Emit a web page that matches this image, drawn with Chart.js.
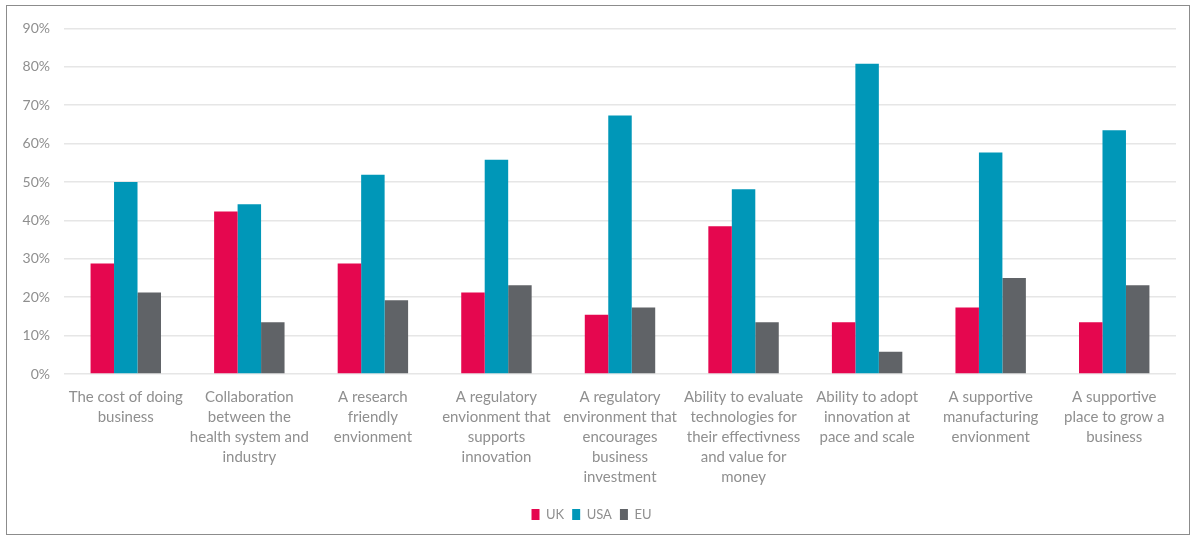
<!DOCTYPE html>
<html lang="en">
<head>
    <meta charset="UTF-8">
    <title>UK / USA / EU comparison</title>
    <style>
        body {
            margin: 0;
            background: #fff;
            font-family: Lato, "Open Sans", sans-serif;
        }
        .frame {
            position: absolute;
            left: 6px;
            top: 5px;
            width: 1184px;
            height: 530px;
            border: 1px solid #8c8c8c;
            box-sizing: border-box;
        }
    </style>
</head>
<body>

<div class="frame">
    <canvas id="chart" width="1182" height="528"></canvas>
</div>

<script src="https://cdn.jsdelivr.net/npm/chart.js"></script>
<script>
    const categories = [
        ['The cost of doing', 'business'],
        ['Collaboration', 'between the', 'health system and', 'industry'],
        ['A research', 'friendly', 'envionment'],
        ['A regulatory', 'envionment that', 'supports', 'innovation'],
        ['A regulatory', 'environment that', 'encourages', 'business', 'investment'],
        ['Ability to evaluate', 'technologies for', 'their effectivness', 'and value for', 'money'],
        ['Ability to adopt', 'innovation at', 'pace and scale'],
        ['A supportive', 'manufacturing', 'envionment'],
        ['A supportive', 'place to grow a', 'business']
    ];

    const ukValues  = [28.8, 42.3, 28.8, 21.2, 15.4, 38.5, 13.5, 17.3, 13.5];
    const usaValues = [50.0, 44.2, 51.9, 55.8, 67.3, 48.1, 80.8, 57.7, 63.5];
    const euValues  = [21.2, 13.5, 19.2, 23.1, 17.3, 13.5, 5.8, 25.0, 23.1];

    const textColor = '#8f8f8f';

    new Chart(document.getElementById('chart').getContext('2d'), {
        type: 'bar',
        data: {
            labels: categories,
            datasets: [
                { label: 'UK', data: ukValues, backgroundColor: '#e5074f' },
                { label: 'USA', data: usaValues, backgroundColor: '#0097b8' },
                { label: 'EU', data: euValues, backgroundColor: '#606367' }
            ]
        },
        options: {
            responsive: false,
            animation: false,
            layout: {
                padding: { left: 0, right: 13, top: 12, bottom: 3 }
            },
            datasets: {
                bar: {
                    categoryPercentage: 0.57,
                    barPercentage: 1.0
                }
            },
            scales: {
                x: {
                    // leave a gap between the wrapped labels and the legend
                    afterFit: function (scale) {
                        scale.height += 8;
                    },
                    grid: { display: false },
                    border: { display: false },
                    ticks: {
                        color: textColor,
                        font: { family: 'Lato', size: 15, lineHeight: '20px' },
                        maxRotation: 0,
                        autoSkip: false,
                        padding: 5
                    }
                },
                y: {
                    min: 0,
                    max: 90,
                    afterFit: function (scale) {
                        scale.width = 57;
                    },
                    grid: {
                        color: '#e6e6e6',
                        lineWidth: 1.5,
                        drawTicks: false
                    },
                    border: { display: false },
                    ticks: {
                        stepSize: 10,
                        color: textColor,
                        padding: 14,
                        font: { family: 'Lato', size: 14 },
                        callback: function (value) {
                            return value + '%';
                        }
                    }
                }
            },
            plugins: {
                legend: {
                    position: 'bottom',
                    labels: {
                        color: textColor,
                        font: { family: 'Lato', size: 13 },
                        boxWidth: 8,
                        boxHeight: 11,
                        padding: 8
                    }
                },
                tooltip: { enabled: false }
            }
        }
    });
</script>

</body>
</html>
